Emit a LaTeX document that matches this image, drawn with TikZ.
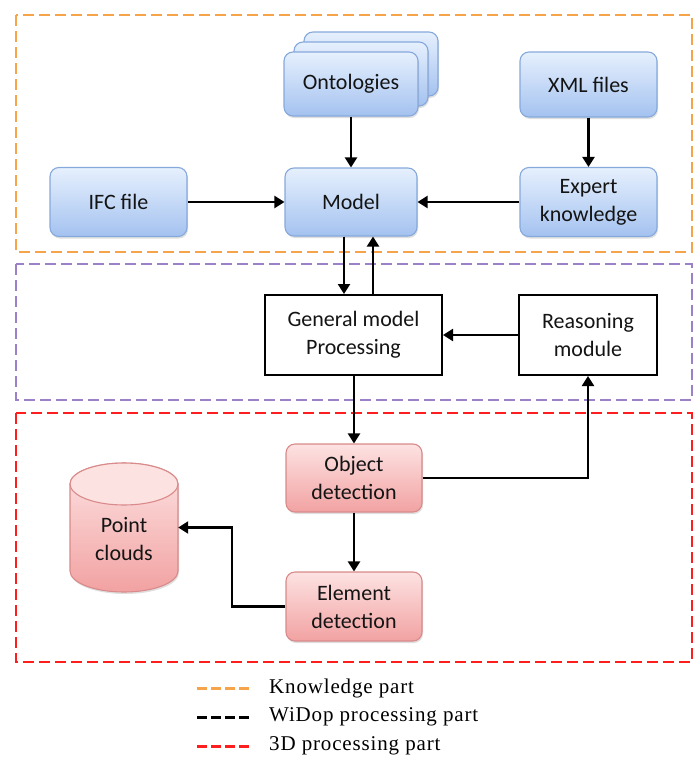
\documentclass[tikz,border=0pt]{standalone}
\usepackage{fontspec}
\setmainfont{Carlito}
\newfontfamily\legendfont[LetterSpace=4]{Liberation Serif}
\usetikzlibrary{arrows.meta,shapes.geometric,shadows,calc}
\definecolor{bluetop}{HTML}{E6F0FD}
\definecolor{bluebot}{HTML}{A4C2F0}
\definecolor{blueedge}{HTML}{86A9DC}
\definecolor{redtop}{HTML}{FDE2E2}
\definecolor{redbot}{HTML}{F2A2A2}
\definecolor{rededge}{HTML}{D98A8A}
\definecolor{orangedash}{HTML}{F6A34A}
\definecolor{purpledash}{HTML}{9C80C8}
\definecolor{reddash}{HTML}{FF1E1E}
\definecolor{txt}{HTML}{141414}
\tikzset{
  boxfont/.style={font=\fontsize{22}{28}\selectfont, text=txt},
  bluebox/.style={draw=blueedge, line width=1.1pt, rounded corners=9pt, top color=bluetop, bottom color=bluebot,
    drop shadow={opacity=0.25, shadow xshift=1pt, shadow yshift=-2pt}, align=center, inner sep=0pt, boxfont},
  redbox/.style={draw=rededge, line width=1.1pt, rounded corners=9pt, top color=redtop, bottom color=redbot,
    drop shadow={opacity=0.25, shadow xshift=1pt, shadow yshift=-2pt}, align=center, inner sep=0pt, boxfont},
  plainbox/.style={draw=black, line width=2pt, fill=white, align=center, inner sep=0pt, boxfont},
  arr/.style={line width=2.2pt, -{Triangle[length=10pt,width=12pt]}},
  partbox/.style={line width=2.8pt, dash pattern=on 11pt off 5pt},
  legdash/.style={line width=3pt, dash pattern=on 10pt off 4pt},
  legtext/.style={anchor=west, inner sep=0pt, font=\legendfont\fontsize{21}{24}\selectfont}
}
\begin{document}
\begin{tikzpicture}[x=1pt,y=-1pt]
\useasboundingbox (0,0) rectangle (700,761);
% part boxes
\draw[partbox, draw=orangedash] (16,15) rectangle (692,252);
\draw[partbox, draw=purpledash] (16,264) rectangle (692,400);
\draw[partbox, draw=reddash] (16,413) rectangle (692,662);
% knowledge part nodes
\node[bluebox, minimum width=134pt, minimum height=64pt] (ont3) at (371,64) {};
\node[bluebox, minimum width=134pt, minimum height=64pt] (ont2) at (361,74) {};
\node[bluebox, minimum width=134pt, minimum height=64pt] (ont) at (351,84) {Ontologies};
\node[bluebox, minimum width=137pt, minimum height=65pt] (xml) at (588.5,84.5) {XML files};
\node[bluebox, minimum width=137pt, minimum height=69pt] (ifc) at (118.5,202) {IFC file};
\node[bluebox, minimum width=132pt, minimum height=68pt] (model) at (351,202) {Model};
\node[bluebox, minimum width=137pt, minimum height=69pt] (expert) at (588.5,202) {Expert\\knowledge};
% processing part
\node[plainbox, minimum width=177pt, minimum height=80pt] (gmp) at (353.5,335) {General model\\Processing};
\node[plainbox, minimum width=138pt, minimum height=80pt] (rm) at (588,335) {Reasoning\\module};
% 3D part
\node[redbox, minimum width=136pt, minimum height=68pt] (od) at (354,478) {Object\\detection};
\node[redbox, minimum width=136pt, minimum height=69pt] (ed) at (354,606.5) {Element\\detection};
% point clouds cylinder
\path[draw=rededge, line width=1.1pt, top color=redtop, bottom color=redbot,
  drop shadow={opacity=0.25, shadow xshift=1pt, shadow yshift=-2pt}]
  (70,484) -- (70,571) arc[start angle=180, end angle=360, x radius=54pt, y radius=21pt]
  -- (178,484) arc[start angle=0, end angle=180, x radius=54pt, y radius=21pt] -- cycle;
\path[draw=rededge, line width=1.1pt, fill=redtop]
  (70,484) arc[start angle=180, end angle=360, x radius=54pt, y radius=21pt]
  arc[start angle=0, end angle=180, x radius=54pt, y radius=21pt] -- cycle;
\node[minimum width=108pt, minimum height=129pt, inner sep=0pt] (pc) at (124,527.5) {};
\node[align=center, inner sep=0pt, boxfont] (pctext) at (124,539) {Point\\clouds};
% connectors
\draw[arr] (ont.south) -- (model.north);
\draw[arr] (xml.south) -- (expert.north);
\draw[arr] (ifc.east) -- (model.west);
\draw[arr] (expert.west) -- (model.east);
\draw[arr] ([xshift=-7pt]model.south) -- ([xshift=-7pt]model.south |- gmp.north);
\draw[arr] ([xshift=22pt]model.south |- gmp.north) -- ([xshift=22pt]model.south);
\draw[arr] (rm.west) -- (gmp.east);
\draw[arr] (gmp.south -| od.north) -- (od.north);
\draw[arr] (od.east) -| (rm.south);
\draw[arr] (od.south) -- (ed.north);
\coordinate (bend) at (232,606.5);
\draw[arr] (ed.west) -- (bend) |- (pc.east);
% legend
\coordinate (l1a) at (197,688); \coordinate (l1b) at (250,688);
\coordinate (l2a) at (197,717); \coordinate (l2b) at (250,717);
\coordinate (l3a) at (197,746); \coordinate (l3b) at (250,746);
\draw[legdash, draw=orangedash] (l1a) -- (l1b);
\draw[legdash, draw=black] (l2a) -- (l2b);
\draw[legdash, draw=reddash] (l3a) -- (l3b);
\node[legtext] (t1) at (269,688) {Knowledge part};
\node[legtext] (t2) at (269,717) {WiDop processing part};
\node[legtext] (t3) at (269,746) {3D processing part};
\end{tikzpicture}
\end{document}
